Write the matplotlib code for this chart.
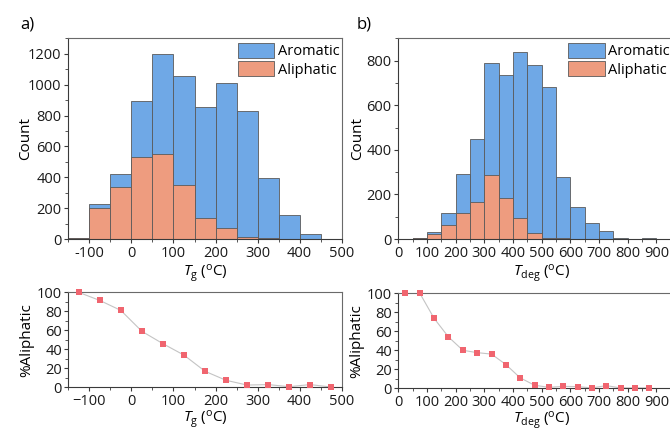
import matplotlib
matplotlib.use("Agg")
import matplotlib.pyplot as plt
from matplotlib.ticker import MultipleLocator

plt.rcParams['font.family'] = ['Open Sans', 'DejaVu Sans']
plt.rcParams['mathtext.fontset'] = 'custom'
plt.rcParams['mathtext.rm'] = 'Open Sans'
plt.rcParams['mathtext.it'] = 'Open Sans:italic'
plt.rcParams['font.size'] = 10

BLUE = '#6fa8e6'
ORANGE = '#ee9c7f'
MARKER = '#f0656f'
EDGE = '#5a5a5a'
SPINE = '#3a3a3a'

# glass transition histogram (bin left edges, 50 C wide)
tg_bins = [-150, -100, -50, 0, 50, 100, 150, 200, 250, 300, 350, 400, 450]
tg_all = [10, 224, 424, 897, 1196, 1058, 852, 1011, 830, 398, 159, 32, 2]
tg_aliph = [10, 202, 338, 529, 548, 351, 135, 69, 13, 6, 2, 1, 0]

# degradation temperature histogram
tdeg_bins = [50, 100, 150, 200, 250, 300, 350, 400, 450, 500, 550, 600, 650, 700, 750, 800, 850]
tdeg_all = [4, 30, 118, 291, 447, 788, 734, 838, 781, 682, 277, 145, 74, 35, 3, 0, 6]
tdeg_aliph = [4, 21, 63, 117, 167, 285, 182, 94, 27, 6, 3, 1, 0, 0, 0, 0, 0]

# share of aliphatic polymers per bin
tg_mid = [-125, -75, -25, 25, 75, 125, 175, 225, 275, 325, 375, 425, 475]
tg_pct = [100, 91.5, 81, 59, 46, 34, 17, 7.5, 2.5, 3, 0.8, 3, 0.4]
tdeg_mid = [25, 75, 125, 175, 225, 275, 325, 375, 425, 475, 525, 575, 625, 675, 725, 775, 825, 875]
tdeg_pct = [100, 100, 73.5, 54, 40, 37.5, 36, 25, 11, 3.2, 1, 2, 1.8, 0.4, 2.8, 0.4, 0.4, 0.4]

tg_ticks = [-100, 0, 100, 200, 300, 400, 500]
tg_ticklabels_top = ['-100', '0', '100', '200', '300', '400', '500']
tg_ticklabels_bot = ['\u2212100', '0', '100', '200', '300', '400', '500']
tdeg_ticks = [0, 100, 200, 300, 400, 500, 600, 700, 800, 900]

TG_LABEL = r'$T_\mathrm{g}$ ($^\mathrm{o}$C)'
TDEG_LABEL = r'$T_\mathrm{deg}$ ($^\mathrm{o}$C)'


def style_axes(ax, pad=2):
    for side in ['left', 'bottom']:
        ax.spines[side].set_color(SPINE)
        ax.spines[side].set_linewidth(0.8)
    for side in ['top', 'right']:
        ax.spines[side].set_color('#6a6a6a')
        ax.spines[side].set_linewidth(0.8)
    ax.tick_params(which='major', direction='out', length=3, width=0.8,
                   color=SPINE, labelcolor='#1a1a1a', pad=pad, labelsize=10.5)
    ax.tick_params(which='minor', direction='out', length=2, width=0.6, color=SPINE)
    ax.tick_params(top=False, right=False, which='both')


def draw_hist(ax, bins, counts_all, counts_aliph, ymax, ystep, xlim, legend_x, label_x):
    ax.bar(bins, counts_all, width=50, align='edge', color=BLUE,
           edgecolor=EDGE, linewidth=0.6, label='Aromatic')
    ax.bar(bins, counts_aliph, width=50, align='edge', color=ORANGE,
           edgecolor=EDGE, linewidth=0.6, label='Aliphatic')
    ax.set_xlim(*xlim)
    ax.set_ylim(0, ymax)
    ax.yaxis.set_major_locator(MultipleLocator(ystep))
    ax.yaxis.set_minor_locator(MultipleLocator(ystep / 2))
    ax.xaxis.set_minor_locator(MultipleLocator(50))
    ax.set_ylabel('Count', fontsize=11)
    ax.yaxis.set_label_coords(label_x, 0.5)
    style_axes(ax)
    ax.legend(loc='upper left', bbox_to_anchor=(legend_x, 0.978), frameon=False,
              borderpad=0, borderaxespad=0, handlelength=2.5, handleheight=1.25,
              handletextpad=0.25, labelspacing=0.12, fontsize=10.5)


def draw_pct(ax, xs, pct, xlim, label_x):
    ax.plot(xs, pct, '-', color='#c4c4c4', linewidth=0.8, zorder=2)
    ax.plot(xs, pct, 's', color=MARKER, markersize=4.8, markeredgewidth=0,
            zorder=3, clip_on=False)
    ax.set_xlim(*xlim)
    ax.set_ylim(0, 100)
    ax.yaxis.set_major_locator(MultipleLocator(20))
    ax.yaxis.set_minor_locator(MultipleLocator(10))
    ax.xaxis.set_minor_locator(MultipleLocator(50))
    ax.set_ylabel('%Aliphatic', fontsize=11)
    ax.yaxis.set_label_coords(label_x, 0.5)
    style_axes(ax, pad=1.5)


fig = plt.figure(figsize=(6.7, 4.3), dpi=100)

ax_a = fig.add_axes([0.102, 0.444, 0.408, 0.467])
draw_hist(ax_a, tg_bins, tg_all, tg_aliph, 1300, 200, (-150, 500), 0.62, -0.129)
ax_a.set_xticks(tg_ticks)
ax_a.set_xticklabels(tg_ticklabels_top)
ax_a.set_xlabel(TG_LABEL, fontsize=11, labelpad=1)

ax_b = fig.add_axes([0.5945, 0.444, 0.428, 0.467])
draw_hist(ax_b, tdeg_bins, tdeg_all, tdeg_aliph, 900, 200, (0, 1000), 0.592, -0.117)
ax_b.set_xticks(tdeg_ticks)
ax_b.set_xlabel(TDEG_LABEL, fontsize=11, labelpad=1)

ax_c = fig.add_axes([0.102, 0.099, 0.408, 0.221])
draw_pct(ax_c, tg_mid, tg_pct, (-150, 500), -0.125)
ax_c.set_xticks(tg_ticks)
ax_c.set_xticklabels(tg_ticklabels_bot)
ax_c.set_xlabel(TG_LABEL, fontsize=11, labelpad=0)

ax_d = fig.add_axes([0.5945, 0.097, 0.428, 0.221])
draw_pct(ax_d, tdeg_mid, tdeg_pct, (0, 1000), -0.12)
ax_d.set_xticks(tdeg_ticks)
ax_d.set_xlabel(TDEG_LABEL, fontsize=11, labelpad=0)

fig.text(0.03, 0.942, 'a)', fontsize=12, va='center')
fig.text(0.533, 0.942, 'b)', fontsize=12, va='center')

fig.savefig('out.png', dpi=100)
